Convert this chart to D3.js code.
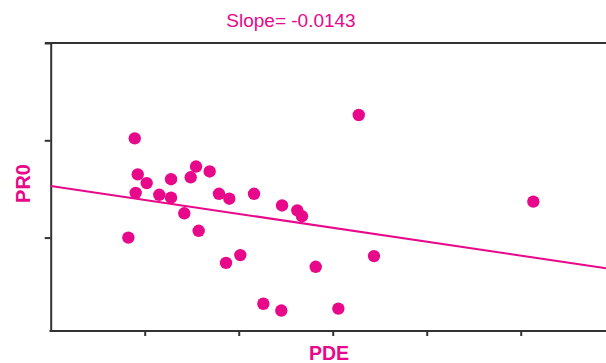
<!DOCTYPE html>
<html><head><meta charset="utf-8">
<script src="https://cdn.jsdelivr.net/npm/d3@7"></script>
<style>html,body{margin:0;padding:0;background:#fff;}svg{display:block;}</style>
</head><body>
<svg id="c" width="606" height="363"></svg>
<script>
const titleText = "Slope= -0.0143";
const xLabel = "PDE";
const yLabel = "PR0";
const pdeValues = [8.94,9.26,10.21,9.04,11.55,12.80,12.80,14.89,15.46,16.91,14.21,15.74,8.26,17.90,19.00,21.63,24.61,26.23,26.73,18.65,20.17,22.62,24.53,32.77,51.34,28.19,34.39,30.60];
const pr0Values = [2.02,1.65,1.56,1.46,1.44,1.60,1.41,1.62,1.73,1.68,1.25,1.07,1.00,1.45,1.40,1.45,1.33,1.28,1.22,0.74,0.82,0.32,0.25,2.26,1.37,0.70,0.81,0.27];
const xTicks = [10,20,30,40,50];
const yTicks = [1,2,3];
const slope = -0.0143;
const intercept = 1.53;

const color = "#e8088a";
const axisColor = "#333";
const svg = d3.select("#c");
const x = d3.scaleLinear().domain([0, 59.07]).range([50.7, 606]);
const y = d3.scaleLinear().domain([0.04, 3]).range([331, 43]);

// top frame line
svg.append("line").attr("x1", 45).attr("x2", 606).attr("y1", y(3)).attr("y2", y(3))
  .attr("stroke", axisColor).attr("stroke-width", 2);

const ya = svg.append("g").attr("transform", `translate(${x(0)},0)`)
  .call(d3.axisLeft(y).tickValues(yTicks).tickSize(6).tickSizeOuter(0).tickFormat(""));
ya.selectAll("path,line").attr("stroke", axisColor).attr("stroke-width", 2);

const xa = svg.append("g").attr("transform", `translate(0,${y(0.04)})`)
  .call(d3.axisBottom(x).tickValues(xTicks).tickSize(5).tickSizeOuter(0).tickFormat(""));
xa.selectAll("path,line").attr("stroke", axisColor).attr("stroke-width", 2);
xa.select("path").attr("d", `M49.5,0H606`);

// regression line
const xd = x.domain();
svg.append("line")
  .attr("x1", x(xd[0])).attr("y1", y(intercept + slope * xd[0]))
  .attr("x2", x(xd[1])).attr("y2", y(intercept + slope * xd[1]))
  .attr("stroke", color).attr("stroke-width", 2);

svg.append("g").selectAll("circle").data(pdeValues.map((v, i) => [v, pr0Values[i]]))
  .join("circle").attr("cx", d => x(d[0])).attr("cy", d => y(d[1])).attr("r", 6.2)
  .attr("fill", color);

svg.append("text").attr("x", 291).attr("y", 26.5).attr("text-anchor", "middle")
  .attr("font-family", "Liberation Sans, Arial, sans-serif").attr("font-size", 19)
  .attr("fill", color).text(titleText);

svg.append("text").attr("x", 329).attr("y", 360).attr("text-anchor", "middle")
  .attr("font-family", "Liberation Sans, Arial, sans-serif").attr("font-size", 19.5).attr("font-weight", "bold")
  .attr("fill", color).text(xLabel);

svg.append("text").attr("transform", "translate(29.5,183.5) rotate(-90)").attr("text-anchor", "middle")
  .attr("font-family", "Liberation Sans, Arial, sans-serif").attr("font-size", 20).attr("font-weight", "bold")
  .attr("fill", color).text(yLabel);
</script>
</body></html>
